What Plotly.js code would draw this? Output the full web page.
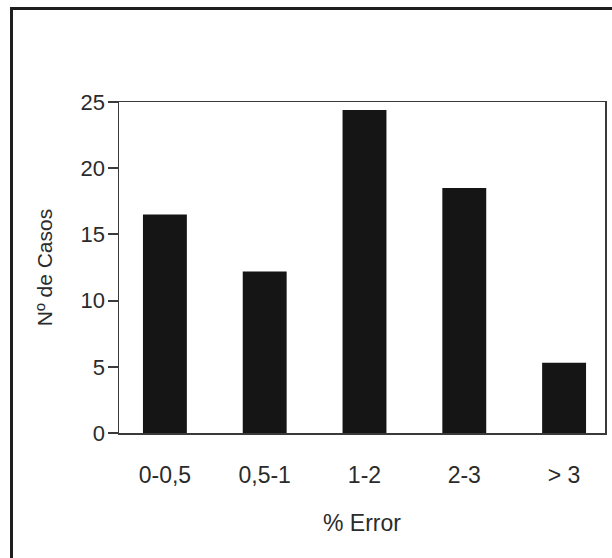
<!DOCTYPE html>
<html>
<head>
<meta charset="utf-8">
<script src="https://cdn.plot.ly/plotly-3.0.1.min.js"></script>
<style>
  html, body { margin: 0; padding: 0; background: #fff; }
  #wrap { position: relative; width: 612px; height: 558px; overflow: hidden; }
  #frame { position: absolute; left: 10px; top: 7px; width: 700px; height: 700px; border: 3px solid #1e1e1e; box-sizing: border-box; pointer-events: none; }
  #chart { position: absolute; left: 0; top: 0; width: 612px; height: 558px; }
</style>
</head>
<body>
<div id="wrap">
  <div id="chart"></div>
  <div id="frame"></div>
</div>
<script>
const categories = ["0-0,5", "0,5-1", "1-2", "2-3", "> 3"];
const casos = [16.5, 12.2, 24.4, 18.5, 5.3];
const yTicks = [0, 5, 10, 15, 20, 25];
const xTitle = "% Error";
const yTitle = "Nº de Casos";

const fontFam = "Liberation Sans, Arial, Helvetica, sans-serif";

const trace = {
  type: "bar",
  x: categories,
  y: casos,
  width: 0.44,
  marker: { color: "#151515", line: { width: 0 } },
  hoverinfo: "x+y"
};

const layout = {
  width: 612,
  height: 558,
  margin: { l: 119, r: 7, t: 102, b: 125, pad: 0 },
  paper_bgcolor: "rgba(0,0,0,0)",
  plot_bgcolor: "rgba(0,0,0,0)",
  showlegend: false,
  font: { family: fontFam, color: "#333" },
  xaxis: {
    type: "category",
    range: [-0.46, 4.41],
    showgrid: false,
    zeroline: false,
    showline: true,
    linecolor: "#3a3a3a",
    linewidth: 1.5,
    mirror: true,
    ticks: "",
    ticklabelstandoff: 21,
    tickfont: { size: 23, color: "#2b2b2b", family: fontFam },
    title: { text: xTitle, font: { size: 23, color: "#2b2b2b", family: fontFam }, standoff: 28 }
  },
  yaxis: {
    range: [0, 25],
    tickvals: yTicks,
    showgrid: false,
    zeroline: false,
    showline: true,
    linecolor: "#3a3a3a",
    linewidth: 1.5,
    mirror: true,
    ticks: "outside",
    ticklen: 10,
    tickwidth: 2,
    tickcolor: "#3a3a3a",
    ticklabelstandoff: -2,
    tickfont: { size: 22, color: "#2b2b2b", family: fontFam },
    title: { text: yTitle, font: { size: 21, color: "#2b2b2b", family: fontFam }, standoff: 22 }
  }
};

Plotly.newPlot("chart", [trace], layout, { staticPlot: true, displayModeBar: false });
</script>
</body>
</html>
